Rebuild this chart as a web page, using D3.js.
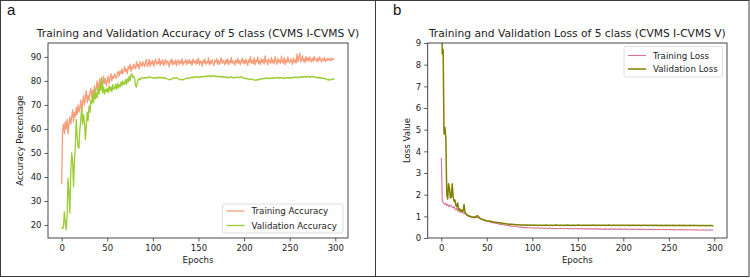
<!DOCTYPE html>
<html>
<head>
<meta charset="utf-8">
<script src="https://cdn.jsdelivr.net/npm/d3@7"></script>
<style>
  body { margin: 0; background: #fff; }
  text { font-family: "DejaVu Sans", sans-serif; fill: #222; }
</style>
</head>
<body>
<div class="chart"></div>
<script>
// Epoch index (x) and the four series
const epochs = d3.range(300);

const trainAcc = [
  37, 59, 62, 58, 63, 60, 64, 58, 62, 65,
  62, 65, 68, 63, 67, 65, 69, 66, 70, 67,
  69, 72, 67, 71, 74, 70, 73, 76, 71, 74,
  72, 75, 77, 73, 76, 74, 78, 75, 77, 80,
  76, 79, 81, 77, 80, 78, 82, 79, 81, 78,
  80, 82, 79, 81, 83, 80, 82, 81, 83, 82,
  81, 83, 84, 82, 84, 83, 85, 83, 84, 86,
  84, 85, 83, 86, 85, 87, 84, 86, 85, 87,
  86, 85, 88, 86, 87, 85, 88, 87, 86, 88,
  87, 86, 88, 89, 86, 87, 89, 86, 88, 87,
  88.5, 86.2, 87.9, 89.1, 86.8, 88.0, 87.2, 89.4, 86.5, 88.3,
  87.0, 88.9, 86.4, 87.8, 89.0, 86.9, 88.2, 87.5, 85.8, 88.6,
  87.3, 89.2, 86.7, 88.1, 87.0, 88.8, 86.3, 87.9, 88.7, 86.9,
  88.4, 87.2, 89.3, 86.6, 88.0, 87.7, 89.0, 86.8, 88.5, 87.4,
  88.9, 87.1, 88.3, 86.5, 89.1, 87.6, 88.2, 86.9, 88.8, 87.3,
  89.5, 86.7, 88.4, 87.9, 86.2, 88.6, 87.4, 89.2, 86.9, 88.0,
  87.5, 89.6, 86.8, 88.3, 87.1, 88.9, 87.6, 86.4, 88.7, 87.8,
  89.3, 87.0, 88.5, 86.9, 88.1, 89.7, 87.3, 88.6, 87.8, 86.7,
  88.9, 87.4, 89.2, 86.8, 88.3, 87.6, 89.8, 87.1, 88.4, 87.9,
  86.6, 88.8, 87.5, 89.4, 87.2, 88.6, 86.9, 88.2, 89.5, 87.3,
  88.7, 87.0, 89.1, 87.8, 86.5, 88.9, 87.6, 90.2, 87.4, 88.5,
  87.1, 89.6, 86.8, 88.7, 87.9, 90.0, 87.2, 88.4, 86.9, 89.3,
  87.7, 88.9, 87.0, 90.4, 87.8, 88.6, 86.7, 89.2, 88.0, 87.4,
  89.8, 87.5, 88.8, 87.1, 90.1, 88.3, 86.9, 89.4, 87.8, 88.6,
  87.2, 90.3, 88.0, 87.4, 89.7, 86.8, 88.9, 87.6, 90.0, 88.2,
  87.5, 89.1, 88.4, 86.9, 89.6, 87.8, 88.7, 87.3, 91.2, 88.0,
  89.4, 91.6, 87.9, 88.8, 90.5, 88.1, 89.3, 87.6, 90.1, 88.4,
  89.7, 88.2, 90.0, 88.6, 87.9, 89.5, 88.3, 90.2, 88.7, 89.1,
  88.0, 89.6, 88.4, 90.0, 88.8, 87.9, 89.3, 88.5, 89.8, 88.2,
  89.0, 88.4, 89.5, 88.7, 89.2, 88.3, 89.6, 88.9, 89.1, 88.8
];

const valAcc = [
  19.0, 18.5, 19.2, 25.5, 21.0, 18.0, 24.0, 39.5, 33.0, 25.0,
  42.0, 50.0, 47.0, 36.0, 46.0, 53.0, 64.0, 57.0, 52.5, 52.0,
  60.0, 64.0, 69.0, 62.0, 66.0, 63.0, 55.5, 61.0, 67.0, 63.5,
  69.5, 67.0, 72.0, 70.5, 74.0, 71.0, 76.5, 72.5, 75.0, 73.0,
  77.0, 74.5, 79.0, 76.0, 81.5, 75.0, 77.5, 74.5, 76.5, 75.5,
  77.0, 75.0, 78.0, 76.0, 77.5, 75.5, 78.5, 76.5, 77.0, 78.5,
  76.5, 79.0, 77.0, 78.5, 77.5, 79.5, 78.0, 80.0, 78.5, 79.0,
  80.5, 78.5, 81.0, 79.5, 82.0, 80.0, 82.5, 83.0, 81.5, 82.0,
  81.0, 78.0, 77.5, 79.5, 80.5, 81.0, 80.5, 81.0, 81.5, 81.2,
  81.0, 81.4, 81.2, 81.5, 81.3, 81.6, 81.4, 81.7, 81.5, 81.3,
  81.3, 81.0, 81.4, 81.2, 81.5, 81.1, 81.3, 81.6, 81.2, 81.4,
  81.5, 81.2, 81.4, 81.1, 81.3, 81.0, 80.8, 80.6, 80.5, 80.7,
  80.6, 80.9, 81.1, 81.3, 81.0, 81.2, 81.4, 81.1, 80.9, 80.6,
  80.4, 80.5, 80.7, 80.4, 80.6, 80.8, 81.0, 81.2, 80.9, 81.1,
  81.3, 81.2, 81.5, 81.3, 81.6, 81.4, 81.7, 81.5, 81.8, 81.6,
  81.4, 81.7, 81.5, 81.8, 81.6, 81.9, 81.7, 82.0, 81.8, 82.1,
  81.9, 82.2, 82.0, 81.8, 82.1, 81.9, 82.3, 82.0, 81.8, 82.1,
  81.9, 81.7, 82.0, 81.8, 81.6, 81.9, 81.7, 81.5, 81.8, 81.6,
  81.4, 81.7, 81.5, 81.3, 81.6, 81.4, 81.8, 81.5, 81.2, 81.5,
  81.3, 81.6, 81.4, 81.7, 81.5, 81.3, 81.6, 81.8, 81.5, 81.2,
  81.0, 81.3, 80.9, 81.1, 80.8, 80.6, 80.9, 80.7, 80.5, 80.8,
  80.6, 80.4, 80.2, 80.5, 80.3, 80.6, 80.4, 80.8, 80.7, 81.0,
  80.8, 81.1, 80.9, 81.2, 81.0, 81.3, 81.1, 80.9, 81.2, 81.0,
  81.3, 81.1, 81.4, 81.2, 81.0, 81.3, 81.5, 81.2, 81.4, 81.1,
  81.3, 81.5, 81.2, 81.0, 81.3, 81.1, 81.4, 81.2, 81.5, 81.3,
  81.1, 81.4, 81.2, 81.5, 81.3, 81.6, 81.4, 81.7, 81.5, 81.3,
  81.6, 81.4, 81.7, 81.5, 81.8, 81.6, 81.9, 81.7, 81.5, 81.8,
  81.6, 81.9, 81.7, 81.5, 81.8, 81.6, 81.9, 81.7, 81.4, 81.6,
  81.3, 81.5, 81.2, 81.4, 81.1, 81.3, 81.0, 81.2, 80.9, 81.1,
  80.8, 80.6, 80.4, 80.7, 80.3, 80.5, 80.8, 80.6, 80.9, 80.8
];

const trainLoss = [
  3.70, 1.75, 1.62, 1.60, 1.55, 1.60, 1.50, 1.55, 1.45, 1.52,
  1.48, 1.50, 1.42, 1.40, 1.45, 1.35, 1.30, 1.38, 1.25, 1.28,
  1.20, 1.22, 1.18, 1.20, 1.15, 1.12, 1.20, 1.10, 1.05, 1.02,
  1.00, 0.98, 0.99, 0.96, 0.95, 0.97, 0.94, 0.93, 0.95, 0.96,
  0.95, 0.92, 0.90, 0.88, 0.86, 0.85, 0.83, 0.82, 0.80, 0.79,
  0.78, 0.77, 0.76, 0.75, 0.74, 0.72, 0.71, 0.70, 0.69, 0.68,
  0.68, 0.67, 0.66, 0.66, 0.64, 0.63, 0.63, 0.62, 0.61, 0.60,
  0.60, 0.59, 0.59, 0.58, 0.57, 0.57, 0.56, 0.55, 0.55, 0.54,
  0.54, 0.53, 0.53, 0.52, 0.52, 0.51, 0.51, 0.50, 0.50, 0.50,
  0.49, 0.49, 0.48, 0.48, 0.48, 0.47, 0.47, 0.47, 0.47, 0.46,
  0.47, 0.46, 0.45, 0.46, 0.47, 0.46, 0.45, 0.46, 0.46, 0.45,
  0.46, 0.45, 0.44, 0.45, 0.46, 0.45, 0.45, 0.44, 0.45, 0.46,
  0.45, 0.44, 0.45, 0.44, 0.43, 0.44, 0.45, 0.44, 0.44, 0.43,
  0.44, 0.45, 0.44, 0.43, 0.44, 0.44, 0.43, 0.44, 0.45, 0.44,
  0.43, 0.44, 0.43, 0.44, 0.43, 0.42, 0.43, 0.44, 0.43, 0.43,
  0.44, 0.43, 0.42, 0.43, 0.44, 0.43, 0.42, 0.43, 0.42, 0.43,
  0.42, 0.43, 0.42, 0.41, 0.42, 0.43, 0.42, 0.42, 0.41, 0.42,
  0.43, 0.42, 0.41, 0.42, 0.41, 0.42, 0.41, 0.40, 0.41, 0.42,
  0.41, 0.42, 0.41, 0.40, 0.41, 0.42, 0.41, 0.41, 0.40, 0.41,
  0.42, 0.41, 0.40, 0.41, 0.40, 0.41, 0.42, 0.41, 0.40, 0.41,
  0.40, 0.41, 0.40, 0.41, 0.39, 0.40, 0.41, 0.40, 0.40, 0.39,
  0.40, 0.41, 0.40, 0.39, 0.40, 0.41, 0.40, 0.39, 0.40, 0.40,
  0.39, 0.40, 0.41, 0.39, 0.40, 0.39, 0.38, 0.39, 0.40, 0.39,
  0.40, 0.39, 0.40, 0.38, 0.39, 0.40, 0.39, 0.38, 0.39, 0.40,
  0.39, 0.38, 0.39, 0.40, 0.39, 0.38, 0.39, 0.38, 0.39, 0.39,
  0.38, 0.39, 0.40, 0.38, 0.39, 0.38, 0.39, 0.38, 0.37, 0.38,
  0.39, 0.38, 0.39, 0.37, 0.38, 0.39, 0.38, 0.37, 0.38, 0.39,
  0.38, 0.37, 0.38, 0.39, 0.38, 0.37, 0.38, 0.37, 0.38, 0.37,
  0.38, 0.37, 0.38, 0.37, 0.36, 0.37, 0.38, 0.37, 0.38, 0.37,
  0.37, 0.38, 0.37, 0.36, 0.37, 0.38, 0.37, 0.36, 0.37, 0.37
];

const valLoss = [
  14.0, 8.50, 8.70, 4.80, 5.10, 4.60, 2.00, 1.80, 2.50, 2.30,
  1.85, 1.90, 2.50, 1.90, 1.70, 1.75, 1.50, 1.45, 1.62, 1.30,
  1.35, 1.25, 1.30, 1.20, 1.25, 1.55, 1.20, 1.12, 1.08, 1.05,
  1.03, 1.00, 1.01, 0.98, 0.97, 0.96, 0.97, 0.95, 0.99, 1.02,
  1.03, 0.98, 0.93, 0.90, 0.88, 0.87, 0.85, 0.84, 0.82, 0.81,
  0.80, 0.79, 0.78, 0.78, 0.77, 0.76, 0.75, 0.74, 0.74, 0.73,
  0.73, 0.72, 0.71, 0.71, 0.70, 0.69, 0.69, 0.68, 0.67, 0.67,
  0.66, 0.66, 0.65, 0.65, 0.64, 0.64, 0.63, 0.63, 0.63, 0.62,
  0.62, 0.62, 0.61, 0.61, 0.61, 0.61, 0.60, 0.60, 0.60, 0.60,
  0.60, 0.60, 0.60, 0.59, 0.60, 0.59, 0.59, 0.60, 0.59, 0.59,
  0.59, 0.59, 0.60, 0.59, 0.59, 0.59, 0.58, 0.59, 0.59, 0.59,
  0.59, 0.58, 0.59, 0.59, 0.59, 0.60, 0.59, 0.59, 0.58, 0.59,
  0.59, 0.59, 0.59, 0.58, 0.59, 0.59, 0.60, 0.59, 0.59, 0.59,
  0.58, 0.59, 0.59, 0.59, 0.59, 0.58, 0.59, 0.59, 0.59, 0.60,
  0.59, 0.59, 0.58, 0.59, 0.59, 0.59, 0.59, 0.58, 0.59, 0.59,
  0.59, 0.60, 0.59, 0.59, 0.58, 0.59, 0.59, 0.59, 0.59, 0.58,
  0.59, 0.59, 0.59, 0.59, 0.58, 0.59, 0.59, 0.60, 0.59, 0.59,
  0.58, 0.59, 0.59, 0.59, 0.59, 0.58, 0.59, 0.59, 0.59, 0.59,
  0.59, 0.58, 0.59, 0.59, 0.60, 0.59, 0.59, 0.58, 0.59, 0.59,
  0.59, 0.59, 0.58, 0.59, 0.59, 0.59, 0.58, 0.59, 0.59, 0.59,
  0.59, 0.58, 0.59, 0.59, 0.59, 0.59, 0.58, 0.59, 0.59, 0.58,
  0.59, 0.59, 0.58, 0.59, 0.59, 0.58, 0.59, 0.59, 0.59, 0.58,
  0.59, 0.58, 0.59, 0.59, 0.58, 0.59, 0.59, 0.58, 0.59, 0.58,
  0.59, 0.59, 0.58, 0.59, 0.58, 0.59, 0.59, 0.58, 0.59, 0.58,
  0.58, 0.59, 0.58, 0.59, 0.58, 0.58, 0.59, 0.58, 0.59, 0.58,
  0.58, 0.59, 0.58, 0.58, 0.59, 0.58, 0.58, 0.59, 0.58, 0.58,
  0.58, 0.58, 0.59, 0.58, 0.58, 0.58, 0.59, 0.58, 0.58, 0.58,
  0.58, 0.58, 0.58, 0.59, 0.58, 0.58, 0.58, 0.58, 0.59, 0.58,
  0.58, 0.58, 0.58, 0.58, 0.57, 0.58, 0.58, 0.58, 0.58, 0.57,
  0.58, 0.58, 0.57, 0.58, 0.58, 0.57, 0.58, 0.58, 0.57, 0.58
];

// Tick labels
const xTicks = [0, 50, 100, 150, 200, 250, 300];
const accTicks = [20, 30, 40, 50, 60, 70, 80, 90];
const lossTicks = [0, 1, 2, 3, 4, 5, 6, 7, 8, 9];

const W = 750, H = 278;
const plotTop = 43, plotBottom = 238;

const svg = d3
  .select(".chart")
  .append("svg")
  .attr("width", W)
  .attr("height", H);

// outer frame and divider between the two panels
svg.append("rect")
  .attr("x", 0.5).attr("y", 0.5)
  .attr("width", 748.5).attr("height", 276)
  .attr("fill", "none").attr("stroke", "#3c3c3c").attr("stroke-width", 1);
svg.append("line")
  .attr("x1", 375.5).attr("x2", 375.5).attr("y1", 0).attr("y2", 277)
  .attr("stroke", "#3c3c3c").attr("stroke-width", 1);

function drawPanel(cfg) {
  const g = svg.append("g");

  const x = d3.scaleLinear().domain([-14.95, 313.95]).range([cfg.left, cfg.right]);
  const y = d3.scaleLinear().domain(cfg.yDomain).range([plotBottom, plotTop]);

  // panel letter
  g.append("text")
    .attr("x", cfg.letterX).attr("y", 15)
    .style("font-family", "'Liberation Sans', Arial, sans-serif")
    .style("font-size", "15px")
    .style("fill", "#111")
    .text(cfg.letter);

  // title
  g.append("text")
    .attr("x", (cfg.left + cfg.right) / 2).attr("y", 37)
    .attr("text-anchor", "middle")
    .style("font-size", "10.7px")
    .text(cfg.title);

  // clip so the big first loss value is cut at the top
  const clipId = "clip-" + cfg.letter;
  g.append("clipPath").attr("id", clipId)
    .append("rect")
    .attr("x", cfg.left).attr("y", plotTop)
    .attr("width", cfg.right - cfg.left).attr("height", plotBottom - plotTop);

  const line = d3.line()
    .x((d, i) => x(epochs[i]))
    .y((d) => y(d));

  cfg.series.forEach((s) => {
    g.append("path")
      .datum(s.values)
      .attr("clip-path", `url(#${clipId})`)
      .attr("fill", "none")
      .attr("stroke", s.color)
      .attr("stroke-width", s.width)
      .attr("stroke-linejoin", "round")
      .attr("d", line);
  });

  // axes
  const xAxis = g.append("g")
    .attr("transform", `translate(0,${plotBottom})`)
    .call(d3.axisBottom(x).tickValues(xTicks).tickSize(3.5).tickPadding(3).tickSizeOuter(0));
  const yAxis = g.append("g")
    .attr("transform", `translate(${cfg.left},0)`)
    .call(d3.axisLeft(y).tickValues(cfg.yTicks).tickSize(3.5).tickPadding(3).tickSizeOuter(0));

  [xAxis, yAxis].forEach((a) => {
    a.select(".domain").remove();
    a.selectAll(".tick line").attr("stroke", "#333").attr("stroke-width", 0.8);
    a.selectAll(".tick text")
      .style("font-size", "8.5px")
      .style("font-family", "'DejaVu Sans', sans-serif")
      .attr("fill", "#222");
  });

  // spines
  g.append("rect")
    .attr("x", cfg.left).attr("y", plotTop)
    .attr("width", cfg.right - cfg.left).attr("height", plotBottom - plotTop)
    .attr("fill", "none").attr("stroke", "#333").attr("stroke-width", 0.9);

  // axis labels
  g.append("text")
    .attr("x", (cfg.left + cfg.right) / 2).attr("y", 263)
    .attr("text-anchor", "middle")
    .style("font-size", "8.6px")
    .text("Epochs");
  g.append("text")
    .attr("transform", `translate(${cfg.yLabelX},${(plotTop + plotBottom) / 2}) rotate(-90)`)
    .attr("text-anchor", "middle")
    .style("font-size", "8.6px")
    .text(cfg.yLabel);

  // legend
  const lg = cfg.legend;
  g.append("rect")
    .attr("x", lg.x).attr("y", lg.y)
    .attr("width", lg.w).attr("height", lg.h)
    .attr("rx", 2)
    .attr("fill", "#fff").attr("fill-opacity", 0.8)
    .attr("stroke", "#d5d5d5").attr("stroke-width", 0.8);
  cfg.series.forEach((s, i) => {
    const ly = lg.y + lg.first + i * lg.step;
    g.append("line")
      .attr("x1", lg.x + 4).attr("x2", lg.x + 22)
      .attr("y1", ly).attr("y2", ly)
      .attr("stroke", s.color).attr("stroke-width", s.width);
    g.append("text")
      .attr("x", lg.x + 29).attr("y", ly + 3.1)
      .style("font-size", "8.7px")
      .text(s.name);
  });
}

drawPanel({
  letter: "a",
  letterX: 7,
  left: 48,
  right: 348,
  yDomain: [14.6, 95.8],
  yTicks: accTicks,
  title: "Training and Validation Accuracy of 5 class (CVMS I-CVMS V)",
  yLabel: "Accuracy Percentage",
  yLabelX: 23,
  series: [
    { name: "Training Accuracy", values: trainAcc, color: "#f89d7a", width: 1.3 },
    { name: "Validation Accuracy", values: valAcc, color: "#9acd32", width: 1.3 }
  ],
  legend: { x: 222.5, y: 204, w: 120.5, h: 29, first: 7, step: 14.5 }
});

drawPanel({
  letter: "b",
  letterX: 393,
  left: 427.7,
  right: 727,
  yDomain: [0, 9],
  yTicks: lossTicks,
  title: "Training and Validation Loss of 5 class (CVMS I-CVMS V)",
  yLabel: "Loss Value",
  yLabelX: 410,
  series: [
    { name: "Training Loss", values: trainLoss, color: "#db7093", width: 1.1 },
    { name: "Validation Loss", values: valLoss, color: "#808000", width: 1.5 }
  ],
  legend: { x: 624, y: 46.5, w: 98.5, h: 30.5, first: 9, step: 13.5 }
});
</script>
</body>
</html>
